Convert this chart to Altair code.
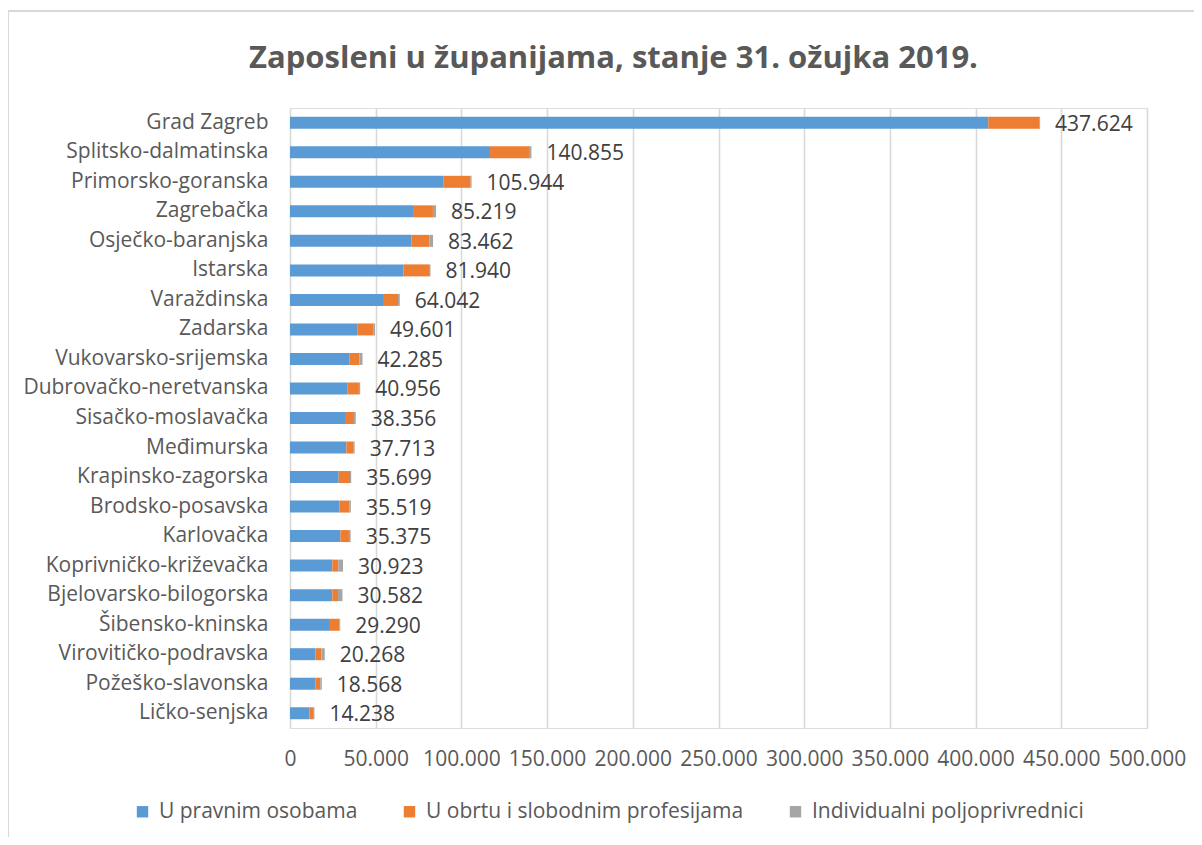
import altair as alt
import pandas as pd

counties = ["Grad Zagreb", "Splitsko-dalmatinska", "Primorsko-goranska", "Zagrebačka",
            "Osječko-baranjska", "Istarska", "Varaždinska", "Zadarska", "Vukovarsko-srijemska",
            "Dubrovačko-neretvanska", "Sisačko-moslavačka", "Međimurska", "Krapinsko-zagorska",
            "Brodsko-posavska", "Karlovačka", "Koprivničko-križevačka", "Bjelovarsko-bilogorska",
            "Šibensko-kninska", "Virovitičko-podravska", "Požeško-slavonska", "Ličko-senjska"]

pravne = [407400, 116700, 89400, 71800, 70800, 66100, 54800, 39500, 34600, 33400, 32100,
          32900, 28400, 28800, 29400, 24700, 24700, 23300, 14800, 14800, 11300]
obrt = [30000, 23200, 16000, 11600, 10500, 15000, 8200, 9300, 5800, 6800, 5200,
        3900, 6600, 5800, 5000, 3500, 3300, 5500, 3500, 2900, 2100]
poljo = [224, 955, 544, 1819, 2162, 840, 1042, 801, 1885, 756, 1056,
         913, 699, 919, 975, 2723, 2582, 490, 1968, 868, 838]
totals = [437624, 140855, 105944, 85219, 83462, 81940, 64042, 49601, 42285, 40956, 38356,
          37713, 35699, 35519, 35375, 30923, 30582, 29290, 20268, 18568, 14238]

series = ["U pravnim osobama", "U obrtu i slobodnim profesijama", "Individualni poljoprivrednici"]
colors = ["#5B9BD5", "#ED7D31", "#A5A5A5"]

rows = []
for i, c in enumerate(counties):
    for k, vals in enumerate([pravne, obrt, poljo]):
        rows.append({"zupanija": c, "serija": series[k], "ord": k, "vrijednost": vals[i]})
df = pd.DataFrame(rows)
tot_df = pd.DataFrame({"zupanija": counties, "ukupno": totals})

FONT = "Open Sans"
FS = 21

y_enc = alt.Y("zupanija:N", sort=counties, title=None,
              axis=alt.Axis(domain=False, ticks=False, labelPadding=22, labelFontSize=FS,
                            labelColor="#595959", labelFont=FONT, labelLimit=300))
x_scale = alt.Scale(domain=[0, 500000], nice=False)

bars = alt.Chart(df).mark_bar(size=12).encode(
    x=alt.X("vrijednost:Q", stack="zero", scale=x_scale, title=None,
            axis=alt.Axis(values=list(range(0, 500001, 50000)), domain=False, ticks=False,
                          grid=True, gridColor="#d9d9d9", gridWidth=1.6,
                          labelFontSize=FS, labelColor="#595959", labelFont=FONT,
                          labelPadding=20, labelOverlap=False, labelFlush=False,
                          labelExpr="replace(format(datum.value, ','), regexp(',', 'g'), '.')")),
    y=y_enc,
    color=alt.Color("serija:N", scale=alt.Scale(domain=series, range=colors), title=None,
                    legend=alt.Legend(orient="none", legendX=-158, legendY=693,
                                      direction="horizontal", symbolType="square",
                                      symbolSize=130, symbolStrokeWidth=0,
                                      labelFontSize=FS, labelColor="#595959", labelFont=FONT,
                                      columnPadding=41, labelOffset=6, labelLimit=400)),
    order=alt.Order("ord:Q"),
)

labels = alt.Chart(tot_df).transform_calculate(
    lab="replace(format(datum.ukupno, ','), regexp(',', 'g'), '.')"
).mark_text(align="left", baseline="middle", dx=15, dy=2, fontSize=FS,
            color="#404040", font=FONT).encode(
    x=alt.X("ukupno:Q", scale=x_scale),
    y=alt.Y("zupanija:N", sort=counties),
    text="lab:N",
)

border = alt.Chart(pd.DataFrame({"a": [0]})).mark_rect(
    fill=None, stroke="#d9d9d9", strokeWidth=2
).encode(x=alt.value(-282), x2=alt.value(1000), y=alt.value(-97), y2=alt.value(900))

chart = alt.layer(border, bars, labels).properties(
    width=857, height=620,
    autosize=alt.AutoSizeParams(type="none"),
    padding={"left": 282, "top": 100, "right": 47, "bottom": 109},
    title=alt.TitleParams("Zaposleni u županijama, stanje 31. ožujka 2019.",
                          fontSize=31, font=FONT, fontWeight="bold", color="#595959",
                          anchor="middle", dx=-105, offset=-89, baseline="alphabetic"),
).configure_view(stroke=None).configure(background="white")

chart.save("out.html", embed_options={"renderer": "svg", "actions": False})
